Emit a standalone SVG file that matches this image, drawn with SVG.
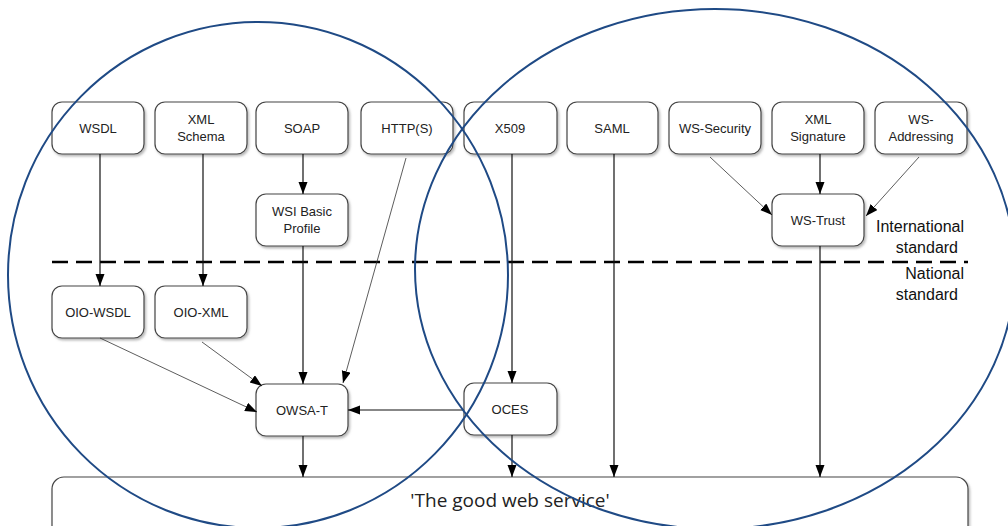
<svg xmlns="http://www.w3.org/2000/svg" width="1008" height="526" viewBox="0 0 1008 526">
<defs>
<filter id="sh" x="-10%" y="-10%" width="130%" height="140%">
<feDropShadow dx="1.5" dy="2" stdDeviation="1.2" flood-color="#888" flood-opacity="0.6"/>
</filter>
<marker id="ah" markerUnits="userSpaceOnUse" markerWidth="13" markerHeight="10" refX="12" refY="4.5" orient="auto">
<path d="M0,0 L12,4.5 L0,9 z" fill="#000"/>
</marker>
<style>
.box{fill:#fff;stroke:#444;stroke-width:1.2;filter:url(#sh)}
.t{font-family:"Liberation Sans",Arial,sans-serif;font-size:13px;fill:#222;text-anchor:middle}
.c{stroke:#111;stroke-width:1.2;fill:none;marker-end:url(#ah)}
.thin{stroke:#333;stroke-width:0.8;fill:none;marker-end:url(#ah)}
.lbl{font-family:"Liberation Sans",Arial,sans-serif;font-size:16px;fill:#111;text-anchor:end}
.ell{fill:none;stroke:#1f4a85;stroke-width:2}
</style>
</defs>
<rect width="1008" height="526" fill="#fff"/>

<g id="divider">
<line x1="52" y1="262" x2="968" y2="262" stroke="#000" stroke-width="2.5" stroke-dasharray="16,8"/>
<text class="lbl" x="964" y="232">International</text>
<text class="lbl" x="958" y="253">standard</text>
<text class="lbl" x="964" y="279">National</text>
<text class="lbl" x="958" y="300">standard</text>
</g>

<g id="n-good"><rect class="box" x="52" y="477" width="916" height="70" rx="12"/><text x="510" y="507" style="font-family:'Open Sans','Noto Sans',sans-serif;font-size:19px;fill:#222;text-anchor:middle">'The good web service'</text></g>

<g id="n-wsdl"><rect class="box" x="52" y="102" width="92" height="52" rx="10"/><text class="t" x="98" y="133">WSDL</text></g>
<g id="n-xmlschema"><rect class="box" x="155" y="102" width="92" height="52" rx="10"/><text class="t" x="201" y="124">XML</text><text class="t" x="201" y="141">Schema</text></g>
<g id="n-soap"><rect class="box" x="256" y="102" width="92" height="52" rx="10"/><text class="t" x="302" y="133">SOAP</text></g>
<g id="n-http"><rect class="box" x="361" y="102" width="92" height="52" rx="10"/><text class="t" x="407" y="133">HTTP(S)</text></g>
<g id="n-x509"><rect class="box" x="464" y="102" width="93" height="52" rx="10"/><text class="t" x="510" y="133">X509</text></g>
<g id="n-saml"><rect class="box" x="567" y="102" width="91" height="52" rx="10"/><text class="t" x="612" y="133">SAML</text></g>
<g id="n-wssecurity"><rect class="box" x="669" y="102" width="92" height="52" rx="10"/><text class="t" x="715" y="133">WS-Security</text></g>
<g id="n-xmlsig"><rect class="box" x="772" y="102" width="92" height="52" rx="10"/><text class="t" x="818" y="124">XML</text><text class="t" x="818" y="141">Signature</text></g>
<g id="n-wsaddr"><rect class="box" x="875" y="102" width="92" height="52" rx="10"/><text class="t" x="921" y="124">WS-</text><text class="t" x="921" y="141">Addressing</text></g>
<g id="n-wsi"><rect class="box" x="256" y="194" width="92" height="52" rx="10"/><text class="t" x="302" y="216">WSI Basic</text><text class="t" x="302" y="233">Profile</text></g>
<g id="n-wstrust"><rect class="box" x="772" y="194" width="92" height="52" rx="10"/><text class="t" x="818" y="225">WS-Trust</text></g>
<g id="n-oiowsdl"><rect class="box" x="52" y="286" width="92" height="52" rx="10"/><text class="t" x="98" y="317">OIO-WSDL</text></g>
<g id="n-oioxml"><rect class="box" x="155" y="286" width="92" height="52" rx="10"/><text class="t" x="201" y="317">OIO-XML</text></g>
<g id="n-owsat"><rect class="box" x="256" y="384" width="92" height="52" rx="10"/><text class="t" x="302" y="415">OWSA-T</text></g>
<g id="n-oces"><rect class="box" x="464" y="383" width="93" height="52" rx="10"/><text class="t" x="510" y="414">OCES</text></g>

<g id="connectors">
<line class="c" x1="100" y1="154" x2="100" y2="286"/>
<line class="c" x1="203" y1="154" x2="203" y2="286"/>
<line class="c" x1="303" y1="154" x2="303" y2="194"/>
<line class="c" x1="303" y1="246" x2="303" y2="384"/>
<line class="thin" x1="406" y1="158" x2="343" y2="383"/>
<line class="thin" x1="100" y1="338" x2="257" y2="412"/>
<line class="thin" x1="202" y1="342" x2="262" y2="386"/>
<line class="c" x1="464" y1="410" x2="348" y2="410"/>
<line class="c" x1="303" y1="436" x2="303" y2="477"/>
<line class="c" x1="512" y1="154" x2="512" y2="383"/>
<line class="c" x1="512" y1="435" x2="512" y2="477"/>
<line class="c" x1="614" y1="154" x2="614" y2="477"/>
<line class="c" x1="820" y1="246" x2="820" y2="477"/>
<line class="thin" x1="710" y1="157" x2="772" y2="215"/>
<line class="c" x1="820" y1="154" x2="820" y2="194"/>
<line class="thin" x1="919" y1="157" x2="866" y2="216"/>
</g>

<g id="ellipses">
<ellipse class="ell" cx="258" cy="275" rx="250" ry="253"/>
<ellipse class="ell" cx="715" cy="269" rx="300" ry="260"/>
</g>
</svg>
